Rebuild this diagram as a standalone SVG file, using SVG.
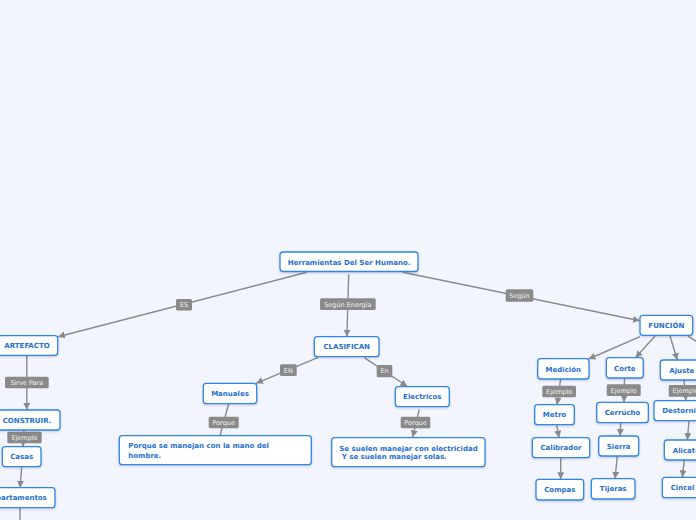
<svg xmlns="http://www.w3.org/2000/svg" width="696" height="520" viewBox="0 0 696 520">
<defs>
<marker id="ah" markerWidth="8" markerHeight="8" refX="7" refY="3.5" orient="auto" markerUnits="userSpaceOnUse"><path d="M0,0 L7,3.5 L0,7 z" fill="#8a8a8a"/></marker>
<filter id="sh" x="-10%" y="-20%" width="120%" height="150%"><feDropShadow dx="0" dy="1" stdDeviation="0.8" flood-color="#000" flood-opacity="0.18"/></filter>
</defs>
<style>
.c{stroke:#8a8a8a;stroke-width:1.4;fill:none}
.a{marker-end:url(#ah)}
.lb rect{fill:#8a8a8a}
.lb text{font-family:"DejaVu Sans",Verdana,sans-serif;font-size:6.5px;fill:#f2f2f2;text-anchor:middle}
.n rect{fill:#fff;stroke:#2d85ea;stroke-width:1.3;filter:url(#sh)}
.n text{font-family:"DejaVu Sans",Verdana,sans-serif;font-size:7px;font-weight:bold;fill:#1f6fd1;text-anchor:middle}
.n text.l{text-anchor:start}
</style>
<rect width="696" height="520" fill="#f2f5fd"/>
<g id="connectors">
<line class="c a" x1="306.7" y1="272.3" x2="58" y2="336.7"/>
<line class="c a" x1="348.7" y1="274.3" x2="346.9" y2="336.7"/>
<line class="c a" x1="402.7" y1="272.3" x2="640" y2="320.7"/>
<line class="c a" x1="318.3" y1="357.3" x2="256" y2="383.3"/>
<line class="c a" x1="364.3" y1="357.7" x2="407.3" y2="386.5"/>
<line class="c" x1="228.7" y1="403.7" x2="220" y2="435.7"/>
<line class="c a" x1="419.3" y1="409.3" x2="412.7" y2="437.3"/>
<line class="c a" x1="26.8" y1="355.3" x2="26.8" y2="410"/>
<line class="c a" x1="24" y1="430" x2="23" y2="446.7"/>
<line class="c a" x1="21.7" y1="466.7" x2="20" y2="487.7"/>
<line class="c" x1="20" y1="507.7" x2="20" y2="520"/>
<line class="c a" x1="640" y1="336.7" x2="588.5" y2="359"/>
<line class="c a" x1="655" y1="336" x2="635.5" y2="357.7"/>
<line class="c a" x1="670" y1="336" x2="677.3" y2="360"/>
<line class="c" x1="688.3" y1="336.3" x2="702" y2="345"/>
<line class="c a" x1="560.7" y1="379" x2="557" y2="404.7"/>
<line class="c a" x1="556.7" y1="424.7" x2="559" y2="437.7"/>
<line class="c a" x1="560.7" y1="458" x2="560.7" y2="479.3"/>
<line class="c a" x1="624.5" y1="378" x2="624" y2="402.3"/>
<line class="c a" x1="620.7" y1="422.7" x2="620" y2="436"/>
<line class="c a" x1="617.3" y1="456" x2="615" y2="478.7"/>
<line class="c a" x1="684" y1="380" x2="686" y2="400.7"/>
<line class="c a" x1="689" y1="420.7" x2="687.3" y2="440"/>
<line class="c a" x1="684.3" y1="460" x2="682.3" y2="477.3"/>
<g class="lb">
<rect x="176" y="299" width="16" height="11.5" rx="1.5"/><text x="184" y="307">ES</text>
<rect x="320" y="298.3" width="55.7" height="11.7" rx="1.5"/><text x="347.8" y="306.5">Según Energía</text>
<rect x="505.7" y="289.3" width="27.6" height="12.4" rx="1.5"/><text x="519.5" y="297.8">Según</text>
<rect x="280" y="364.3" width="16.7" height="11.7" rx="1.5"/><text x="288.3" y="372.5">EN</text>
<rect x="376.7" y="365" width="15.6" height="12.3" rx="1.5"/><text x="384.5" y="373.4">En</text>
<rect x="208.7" y="416.7" width="30" height="11.6" rx="1.5"/><text x="223.7" y="424.8">Porque</text>
<rect x="400.7" y="416.7" width="29.6" height="11.6" rx="1.5"/><text x="415.5" y="424.8">Porque</text>
<rect x="5" y="376.7" width="43.7" height="11.6" rx="1.5"/><text x="26.8" y="384.8">Sirve Para</text>
<rect x="7.3" y="431.7" width="34.4" height="11.6" rx="1.5"/><text x="24.5" y="439.8">Ejemplo</text>
<rect x="542.3" y="385.7" width="33.7" height="11.6" rx="1.5"/><text x="559.2" y="393.8">Ejemplo</text>
<rect x="606.7" y="384.3" width="34" height="11.7" rx="1.5"/><text x="623.7" y="392.5">Ejemplo</text>
<rect x="668.7" y="385" width="34" height="11.7" rx="1.5"/><text x="685.7" y="393.1">Ejemplo</text>
</g>
</g>
<g id="root" class="n"><rect x="280" y="252" width="138" height="19.5" rx="3"/><text x="349" y="264.5">Herramientas Del Ser Humano.</text></g>
<g id="artefacto" class="n"><rect x="-4" y="335.7" width="61.7" height="19.6" rx="3"/><text x="27" y="348">ARTEFACTO</text></g>
<g id="clasifican" class="n"><rect x="314.3" y="336.7" width="64.7" height="20" rx="3"/><text x="346.7" y="349.2">CLASIFICAN</text></g>
<g id="funcion" class="n"><rect x="640" y="315.3" width="52.7" height="20" rx="3"/><text x="666.3" y="327.8">FUNCIÓN</text></g>
<g id="construir" class="n"><rect x="-3" y="410" width="63" height="20" rx="3"/><text x="27" y="422.5">CONSTRUIR.</text></g>
<g id="casas" class="n"><rect x="2.3" y="446.7" width="38.7" height="20" rx="3"/><text x="21.7" y="459.2">Casas</text></g>
<g id="apartamentos" class="n"><rect x="-17.6" y="487.7" width="72.6" height="20" rx="3"/><text x="18.7" y="500.2">Apartamentos</text></g>
<g id="manuales" class="n"><rect x="203.3" y="383.3" width="53.4" height="20.4" rx="3"/><text x="230" y="396">Manuales</text></g>
<g id="electricos" class="n"><rect x="395.3" y="386.7" width="54" height="20" rx="3"/><text x="422.3" y="399.2">Electricos</text></g>
<g id="porque-manuales" class="n"><rect x="119.3" y="435.7" width="192" height="29" rx="3"/><text class="l" x="128.3" y="448.3">Porque se manejan con la mano del</text><text class="l" x="128.3" y="457.6">hombre.</text></g>
<g id="porque-electricos" class="n"><rect x="331.7" y="437.7" width="153.3" height="29" rx="3"/><text class="l" x="339.3" y="451.3">Se suelen manejar con electricidad</text><text class="l" x="339.3" y="459.3" xml:space="preserve"> Y se suelen manejar solas.</text></g>
<g id="medicion" class="n"><rect x="537.7" y="358.7" width="51.3" height="20.3" rx="3"/><text x="563.3" y="371.5">Medición</text></g>
<g id="corte" class="n"><rect x="606.3" y="357.7" width="37" height="20.3" rx="3"/><text x="624.8" y="370.5">Corte</text></g>
<g id="ajuste" class="n"><rect x="660.3" y="360" width="43" height="20" rx="3"/><text x="681.8" y="372.5">Ajuste</text></g>
<g id="metro" class="n"><rect x="534.7" y="404.7" width="39.6" height="20" rx="3"/><text x="554.5" y="417.2">Metro</text></g>
<g id="calibrador" class="n"><rect x="532.3" y="437.7" width="57.4" height="20" rx="3"/><text x="561" y="450.2">Calibrador</text></g>
<g id="compas" class="n"><rect x="536" y="479.3" width="47.7" height="20.7" rx="3"/><text x="559.8" y="492.2">Compas</text></g>
<g id="cerrucho" class="n"><rect x="596.7" y="402.3" width="51.6" height="20.4" rx="3"/><text x="622.5" y="415">Cerrúcho</text></g>
<g id="sierra" class="n"><rect x="598.7" y="436" width="40" height="20" rx="3"/><text x="618.7" y="448.5">Sierra</text></g>
<g id="tijeras" class="n"><rect x="591.3" y="478.7" width="43.7" height="20.3" rx="3"/><text x="613.2" y="491.3">Tijeras</text></g>
<g id="destornillador" class="n"><rect x="654" y="400.7" width="73" height="20" rx="3"/><text x="690.5" y="413.2">Destornillador</text></g>
<g id="alicates" class="n"><rect x="664.3" y="440" width="48.2" height="20" rx="3"/><text x="688.4" y="452.5">Alicates</text></g>
<g id="cincel" class="n"><rect x="662.3" y="477.3" width="40.6" height="20.4" rx="3"/><text x="682.6" y="490">Cincel</text></g>
</svg>
